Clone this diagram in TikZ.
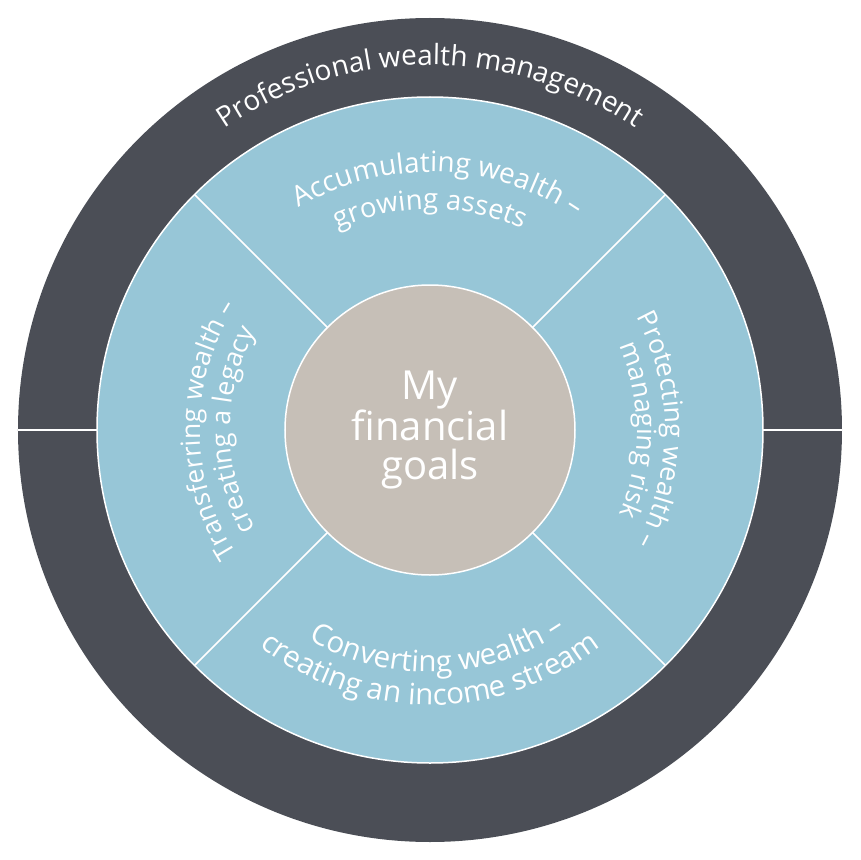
\documentclass[tikz,border=0pt]{standalone}
\usepackage{fontspec}
\setmainfont{Open Sans}
\usetikzlibrary{decorations.text}
\definecolor{ringgrey}{HTML}{4B4E56}
\definecolor{sectorblue}{HTML}{97C6D7}
\definecolor{goalstan}{HTML}{C6BFB7}
\begin{document}
\begin{tikzpicture}[
    disc/.style={circle, draw=white, line width=1.5pt, inner sep=0pt, outer sep=0pt},
    divider/.style={draw=white, line width=1.5pt},
    arc label/.style 2 args={decorate, decoration={text along path, text align=center,
      text color=white, text={|\fontsize{#1pt}{30pt}\selectfont|#2}}}]
    \useasboundingbox (-430pt,-430pt) rectangle (430pt,430pt);
    \node[disc, draw=none, fill=ringgrey, minimum size=824pt] (ring) at (0,0) {};
    \node[disc, fill=sectorblue, minimum size=666pt] (sectors) at (0,0) {};
    \draw[divider] (ring.west) -- (sectors.west);
    \draw[divider] (sectors.east) -- (ring.east);
    \node[disc, fill=goalstan, minimum size=290pt, text=white, align=center,
      font=\fontsize{40pt}{39pt}\selectfont] (goals) at (0,0) {My\\financial\\goals};
    \foreach \a in {45,135,225,315}
      \draw[divider] (goals.\a) -- (sectors.\a);
    \path[arc label={28}{Professional wealth management}]
      (170:365pt) arc[start angle=170, end angle=10, radius=365pt];
    \path[arc label={28}{Accumulating wealth –}]
      (148:258pt) arc[start angle=148, end angle=28, radius=258pt];
    \path[arc label={27.5}{growing assets}]
      (150:221pt) arc[start angle=150, end angle=30, radius=221pt];
    \path[arc label={26.5}{Protecting wealth –}]
      (60:235pt) arc[start angle=60, end angle=-60, radius=235pt];
    \path[arc label={26.5}{managing risk}]
      (60:207pt) arc[start angle=60, end angle=-60, radius=207pt];
    \path[arc label={29.5}{Converting wealth –}]
      (212:242pt) arc[start angle=212, end angle=332, radius=242pt];
    \path[arc label={29.5}{creating an income stream}]
      (210:275pt) arc[start angle=210, end angle=330, radius=275pt];
    \path[arc label={26.5}{Transferring wealth –}]
      (240:230pt) arc[start angle=240, end angle=120, radius=230pt];
    \path[arc label={26.5}{creating a legacy}]
      (240:200pt) arc[start angle=240, end angle=120, radius=200pt];
\end{tikzpicture}
\end{document}
